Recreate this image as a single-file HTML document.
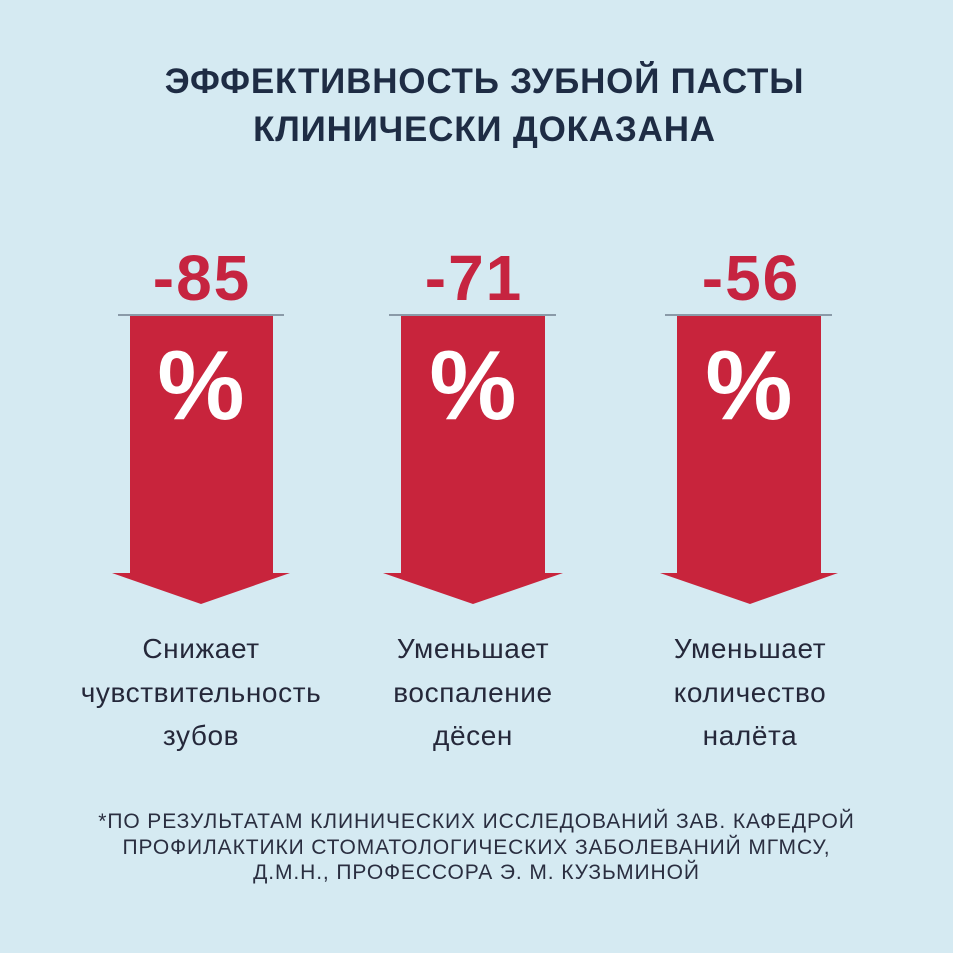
<!DOCTYPE html>
<html><head><meta charset="utf-8"><style>
body{margin:0;width:953px;height:953px;background:#d5eaf2;font-family:"Liberation Sans","DejaVu Sans",sans-serif;position:relative;overflow:hidden}
.t{position:absolute;left:0;width:953px;text-align:center;color:#1e2c44}
.title{font-weight:bold;font-size:35px;line-height:48px;top:58px;letter-spacing:0.8px;left:8px}
.num{position:absolute;width:200px;text-align:center;color:#c62440;font-weight:bold;font-size:64px;top:243px;line-height:70px;letter-spacing:2px}
.pc{position:absolute;width:200px;text-align:center;color:#fff;font-weight:bold;font-size:98px;top:330px;line-height:110px}
.lab{position:absolute;width:300px;text-align:center;color:#25283a;font-size:28px;line-height:43.5px;top:627px;letter-spacing:0.6px}
.foot{font-size:21px;line-height:25.5px;top:809px;color:#2a2e40;letter-spacing:0.9px}
</style></head><body>
<div class="t title">ЭФФЕКТИВНОСТЬ ЗУБНОЙ ПАСТЫ<br>КЛИНИЧЕСКИ ДОКАЗАНА</div>
<svg width="953" height="953" style="position:absolute;left:0;top:0">
<g fill="#c8243c">
<path d="M130 315H273V573H290L201 604L112 573H130Z"/>
<path d="M401 315H545V573H563L473 604L383 573H401Z"/>
<path d="M677 315H821V573H838L750 604L660 573H677Z"/>
</g>
<g stroke="#8a9aa8" stroke-width="2">
<line x1="118" y1="315" x2="284" y2="315"/>
<line x1="389" y1="315" x2="556" y2="315"/>
<line x1="665" y1="315" x2="832" y2="315"/>
</g>
</svg>
<div class="num" style="left:102px">-85</div>
<div class="num" style="left:374px">-71</div>
<div class="num" style="left:651px">-56</div>
<div class="pc" style="left:101px">%</div>
<div class="pc" style="left:373px">%</div>
<div class="pc" style="left:649px">%</div>
<div class="lab" style="left:51px">Снижает<br>чувствительность<br>зубов</div>
<div class="lab" style="left:323px">Уменьшает<br>воспаление<br>дёсен</div>
<div class="lab" style="left:600px">Уменьшает<br>количество<br>налёта</div>
<div class="t foot">*ПО РЕЗУЛЬТАТАМ КЛИНИЧЕСКИХ ИССЛЕДОВАНИЙ ЗАВ. КАФЕДРОЙ<br>ПРОФИЛАКТИКИ СТОМАТОЛОГИЧЕСКИХ ЗАБОЛЕВАНИЙ МГМСУ,<br>Д.М.Н., ПРОФЕССОРА Э. М. КУЗЬМИНОЙ</div>
</body></html>
